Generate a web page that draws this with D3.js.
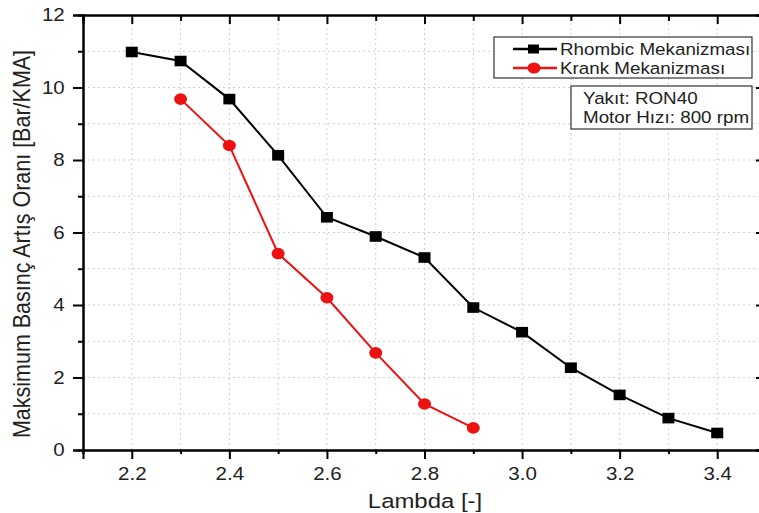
<!DOCTYPE html>
<html>
<head>
<meta charset="utf-8">
<script src="https://cdn.jsdelivr.net/npm/d3@7"></script>
<style>
html,body{margin:0;padding:0;background:#fff;}
svg{display:block;font-family:"Liberation Sans",Arial,sans-serif;}
</style>
</head>
<body>
<svg id="chart" width="759" height="513"></svg>
<script>
const rhombicX = [2.2, 2.3, 2.4, 2.5, 2.6, 2.7, 2.8, 2.9, 3.0, 3.1, 3.2, 3.3, 3.4];
const rhombicY = [10.98, 10.73, 9.68, 8.13, 6.42, 5.89, 5.31, 3.93, 3.25, 2.27, 1.52, 0.88, 0.47];
const krankX = [2.3, 2.4, 2.5, 2.6, 2.7, 2.8, 2.9];
const krankY = [9.68, 8.40, 5.42, 4.20, 2.68, 1.27, 0.61];
const xTicks = [2.2, 2.4, 2.6, 2.8, 3.0, 3.2, 3.4];
const xMinor = [2.1, 2.3, 2.5, 2.7, 2.9, 3.1, 3.3, 3.5];
const yTicks = [0, 2, 4, 6, 8, 10, 12];
const yMinor = [1, 3, 5, 7, 9, 11];
const seriesNames = ["Rhombic Mekanizması", "Krank Mekanizması"];
const infoLines = ["Yakıt: RON40", "Motor Hızı: 800 rpm"];
const xTitle = "Lambda [-]";
const yTitle = "Maksimum Basınç Artış Oranı [Bar/KMA]";

const SX = 1.14; // horizontal stretch of text
const svg = d3.select("#chart");
const x = d3.scaleLinear().domain([2.1, 3.5]).range([83, 766]);
const y = d3.scaleLinear().domain([0, 12]).range([450, 15]);

// grid
const gridX = d3.range(2.2, 3.45, 0.1);
const gridY = d3.range(1, 12, 1);
const grid = svg.append("g").attr("stroke", "#cfcfcf").attr("stroke-width", 1).attr("stroke-dasharray", "2,3");
grid.selectAll("line.gx").data(gridX).enter().append("line")
  .attr("x1", d => x(d)).attr("x2", d => x(d)).attr("y1", y(0)).attr("y2", y(12));
grid.selectAll("line.gy").data(gridY).enter().append("line")
  .attr("y1", d => y(d)).attr("y2", d => y(d)).attr("x1", x(2.1)).attr("x2", x(3.5));

function styleAxis(g){
  g.select(".domain").attr("stroke", "#000").attr("stroke-width", 2);
  g.selectAll(".tick line").attr("stroke", "#000").attr("stroke-width", 2);
  g.selectAll(".tick text").attr("font-size", 18).attr("fill", "#222")
   .attr("font-family", "'Liberation Sans', Arial, sans-serif")
   .attr("transform", `scale(${SX},1)`);
}

// bottom axis
svg.append("g").attr("transform", `translate(0,${y(0)})`)
  .call(d3.axisBottom(x).tickValues(xMinor).tickSize(4).tickFormat(""))
  .call(styleAxis);
svg.append("g").attr("transform", `translate(0,${y(0)})`)
  .call(d3.axisBottom(x).tickValues(xTicks).tickSize(9).tickPadding(8).tickFormat(d3.format(".1f")))
  .call(styleAxis);
// top axis
svg.append("g").attr("transform", `translate(0,${y(12)})`)
  .call(d3.axisBottom(x).tickValues(xMinor).tickSize(6).tickFormat(""))
  .call(styleAxis);
svg.append("g").attr("transform", `translate(0,${y(12)})`)
  .call(d3.axisBottom(x).tickValues(xTicks).tickSize(9).tickFormat(""))
  .call(styleAxis);
// left axis
svg.append("g").attr("transform", `translate(${x(2.1)},0)`)
  .call(d3.axisLeft(y).tickValues(yMinor).tickSize(5).tickFormat(""))
  .call(styleAxis);
svg.append("g").attr("transform", `translate(${x(2.1)},0)`)
  .call(d3.axisLeft(y).tickValues(yTicks).tickSize(10).tickPadding(6).tickFormat(d3.format("d")))
  .call(styleAxis);
// right axis
svg.append("g").attr("transform", `translate(${x(3.5)},0)`)
  .call(d3.axisLeft(y).tickValues(yTicks).tickSize(10).tickFormat(""))
  .call(styleAxis);

// titles
svg.append("text").attr("transform", `translate(425,508) scale(${SX},1)`).attr("text-anchor", "middle")
  .attr("font-size", 21).attr("fill", "#222").text(xTitle);
svg.append("text").attr("transform", `translate(30,244) scale(${SX},1) rotate(-90)`).attr("text-anchor", "middle")
  .attr("font-size", 21.5).attr("fill", "#222").text(yTitle);

// lines
const line = d3.line().x(d => x(d[0])).y(d => y(d[1]));
const rData = rhombicX.map((v, i) => [v, rhombicY[i]]);
const kData = krankX.map((v, i) => [v, krankY[i]]);
svg.append("path").datum(rData).attr("d", line).attr("fill", "none").attr("stroke", "#000").attr("stroke-width", 2);
svg.append("path").datum(kData).attr("d", line).attr("fill", "none").attr("stroke", "#ee1111").attr("stroke-width", 2);
svg.selectAll("rect.rm").data(rData).enter().append("rect")
  .attr("x", d => x(d[0]) - 6).attr("y", d => y(d[1]) - 5.3).attr("width", 12).attr("height", 10.6).attr("fill", "#000");
svg.selectAll("ellipse.km").data(kData).enter().append("ellipse")
  .attr("cx", d => x(d[0])).attr("cy", d => y(d[1])).attr("rx", 6.5).attr("ry", 5.8).attr("fill", "#ee1111");

// legend
const lg = svg.append("g");
lg.append("rect").attr("x", 494).attr("y", 37).attr("width", 258).attr("height", 41)
  .attr("fill", "#fff").attr("stroke", "#333").attr("stroke-width", 1.2);
const legendColors = ["#000", "#ee1111"];
const rowY = [49, 68];
seriesNames.forEach((name, i) => {
  const cy = rowY[i];
  lg.append("line").attr("x1", 513).attr("x2", 557).attr("y1", cy).attr("y2", cy)
    .attr("stroke", legendColors[i]).attr("stroke-width", 2.5);
  if (i === 0) lg.append("rect").attr("x", 528).attr("y", cy - 4.5).attr("width", 11).attr("height", 9).attr("fill", "#000");
  else lg.append("ellipse").attr("cx", 534).attr("cy", cy).attr("rx", 6.5).attr("ry", 5.5).attr("fill", "#ee1111");
  lg.append("text").attr("transform", `translate(560,${cy + 6}) scale(${SX},1)`)
    .attr("font-size", 16.5).attr("fill", "#222").text(name);
});
const ib = svg.append("g");
ib.append("rect").attr("x", 571).attr("y", 86).attr("width", 181).attr("height", 43)
  .attr("fill", "#fff").attr("stroke", "#333").attr("stroke-width", 1.2);
infoLines.forEach((t, i) => {
  ib.append("text").attr("transform", `translate(583,${104 + i * 19}) scale(${SX},1)`)
    .attr("font-size", 16.5).attr("fill", "#222").text(t);
});
</script>
</body>
</html>
